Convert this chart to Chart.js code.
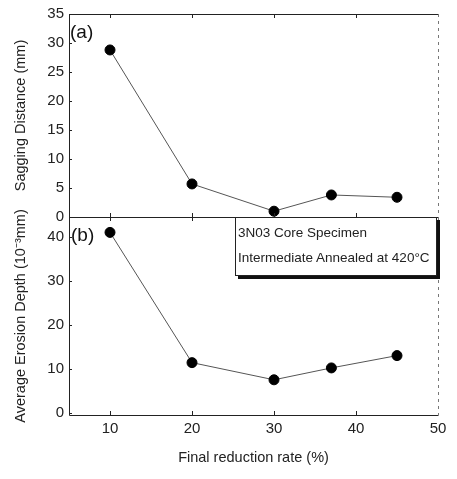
<!DOCTYPE html>
<html>
<head>
<meta charset="utf-8">
<script src="https://cdn.jsdelivr.net/npm/chart.js@4.4.0/dist/chart.umd.min.js"></script>
<style>
body { margin: 0; background: #fff; }
#wrap { position: relative; width: 457px; height: 479px; overflow: hidden; font-family: "Liberation Sans", Arial, sans-serif; }
canvas { position: absolute; left: 0; }
#topc { top: 0; }
#botc { top: 200px; }
.lbl { position: absolute; font-size: 19px; color: #111; line-height: 19px; }
#box { position: absolute; left: 235px; top: 217px; width: 200px; height: 57px; border: 1px solid #222; background: #fff; box-shadow: 3px 3px 0 #111; font-size: 13.5px; color: #222; }
#box span { position: absolute; left: 2px; white-space: nowrap; }
</style>
</head>
<body>
<div id="wrap">
  <canvas id="topc" width="457" height="231"></canvas>
  <canvas id="botc" width="457" height="279"></canvas>
  <div class="lbl" style="left:70px;top:22px">(a)</div>
  <div class="lbl" style="left:71px;top:225px">(b)</div>
  <div id="box">
    <span style="top:7px">3N03 Core Specimen</span>
    <span style="top:32px">Intermediate Annealed at 420°C</span>
  </div>
</div>
<script>
var reduction = [10, 20, 30, 37, 45];
var sagging = [28.8, 5.7, 1.0, 3.8, 3.4];
var erosion = [41, 11.4, 7.5, 10.2, 13];
var xTicks = [10, 20, 30, 40, 50];

var tickFont = { family: "'Liberation Sans', Arial, sans-serif", size: 15 };
var titleFont = { family: "'Liberation Sans', Arial, sans-serif", size: 14.5 };

function points(ys) {
    return reduction.map(function(x, i) { return { x: x, y: ys[i] }; });
}

var framePlugin = {
    id: 'frame',
    afterDraw: function(chart) {
        var a = chart.chartArea, ctx = chart.ctx;
        var xs = chart.scales.x, ys = chart.scales.y;
        ctx.save();
        ctx.strokeStyle = '#222';
        ctx.lineWidth = 1;
        ctx.beginPath();
        ctx.moveTo(a.left + 0.5, a.top + 0.5);
        ctx.lineTo(a.left + 0.5, a.bottom + 0.5);
        ctx.lineTo(a.right + 0.5, a.bottom + 0.5);
        ctx.moveTo(a.left, a.top + 0.5);
        ctx.lineTo(a.right, a.top + 0.5);
        ctx.stroke();
        ctx.setLineDash([3, 4]);
        ctx.strokeStyle = '#777';
        ctx.beginPath();
        ctx.moveTo(a.right + 0.5, a.top);
        ctx.lineTo(a.right + 0.5, a.bottom);
        ctx.stroke();
        ctx.setLineDash([]);
        ctx.strokeStyle = '#222';
        ctx.beginPath();
        xTicks.forEach(function(v) {
            if (v >= 50) return;
            var px = Math.round(xs.getPixelForValue(v)) + 0.5;
            ctx.moveTo(px, a.bottom);
            ctx.lineTo(px, a.bottom - 4);
            ctx.moveTo(px, a.top);
            ctx.lineTo(px, a.top + 4);
        });
        ys.ticks.forEach(function(t) {
            var py = Math.round(ys.getPixelForValue(t.value)) + 0.5;
            ctx.moveTo(a.left, py);
            ctx.lineTo(a.left + 3, py);
        });
        ctx.stroke();
        ctx.restore();
    }
};

function lineSet(ys) {
    return {
        data: points(ys),
        borderColor: '#555',
        borderWidth: 1,
        pointRadius: 5,
        pointBackgroundColor: '#000',
        pointBorderColor: '#000',
        tension: 0
    };
}

new Chart(document.getElementById('topc'), {
    type: 'line',
    data: { datasets: [lineSet(sagging)] },
    options: {
        responsive: false,
        animation: false,
        layout: { padding: { top: 14, right: 19, bottom: 14, left: 0 } },
        plugins: { legend: { display: false }, tooltip: { enabled: false } },
        scales: {
            x: { type: 'linear', min: 5, max: 50, display: false },
            y: {
                min: 0, max: 35,
                ticks: { stepSize: 5, font: tickFont, color: '#222', padding: 5 },
                grid: { display: false, drawTicks: false },
                border: { display: false },
                title: { display: true, text: 'Sagging Distance (mm)', font: titleFont, color: '#222', padding: { top: 12, bottom: 0 } },
                afterFit: function(s) { s.width = 69; }
            }
        }
    },
    plugins: [framePlugin]
});

new Chart(document.getElementById('botc'), {
    type: 'line',
    data: { datasets: [lineSet(erosion)] },
    options: {
        responsive: false,
        animation: false,
        layout: { padding: { top: 17, right: 19, bottom: 8.3, left: 0 } },
        plugins: { legend: { display: false }, tooltip: { enabled: false } },
        scales: {
            x: {
                type: 'linear', min: 5, max: 50,
                afterBuildTicks: function(s) { s.ticks = xTicks.map(function(v) { return { value: v }; }); },
                ticks: { font: tickFont, color: '#222', padding: 5 },
                grid: { display: false, drawTicks: false },
                border: { display: false },
                title: { display: true, text: 'Final reduction rate (%)', font: titleFont, color: '#222', padding: { top: 6.3, bottom: 4 } }
            },
            y: {
                min: -0.5, max: 44.5,
                afterBuildTicks: function(s) { s.ticks = [0, 10, 20, 30, 40].map(function(v) { return { value: v }; }); },
                ticks: { font: tickFont, color: '#222', padding: 5 },
                grid: { display: false, drawTicks: false },
                border: { display: false },
                title: { display: true, text: 'Average Erosion Depth (10⁻³mm)', font: titleFont, color: '#222', padding: { top: 12, bottom: 0 } },
                afterFit: function(s) { s.width = 69; }
            }
        }
    },
    plugins: [framePlugin]
});
</script>
</body>
</html>
